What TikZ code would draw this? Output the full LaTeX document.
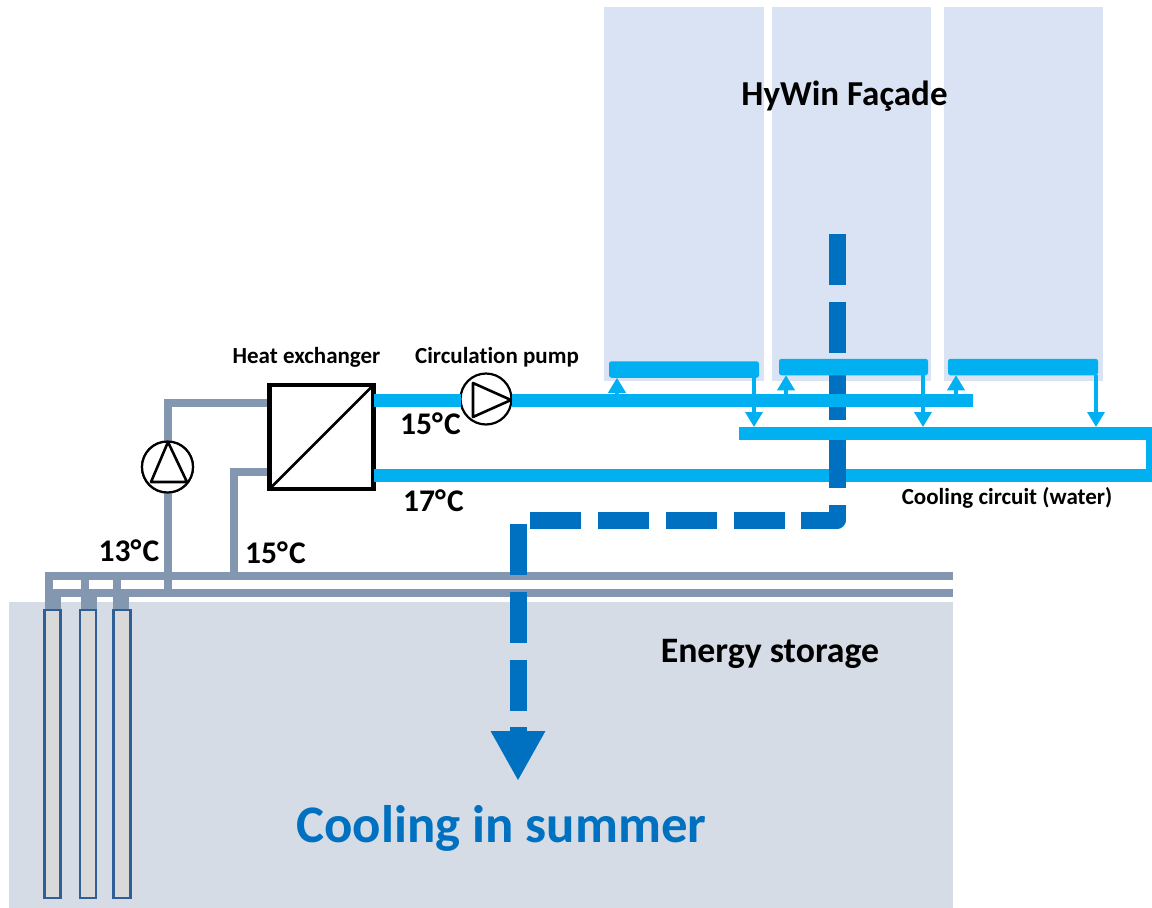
\documentclass[tikz,border=0pt]{standalone}
\usepackage{fontspec}
\setmainfont[Ligatures=NoCommon]{Carlito}
\usetikzlibrary{arrows.meta}
\definecolor{panelc}{HTML}{DAE3F3}
\definecolor{groundc}{HTML}{D6DCE5}
\definecolor{greyp}{HTML}{8497B0}
\definecolor{lightp}{HTML}{00B0F0}
\definecolor{darkp}{HTML}{0070C0}
\definecolor{tubef}{HTML}{D9D9D9}
\definecolor{tubes}{HTML}{2F5F96}
\newcommand{\degc}{°\kern0.04em C}
\tikzset{
  box/.style={inner sep=0pt,outer sep=0pt},
  panel/.style={box,fill=panelc,minimum height=374pt},
  ground/.style={box,fill=groundc},
  tube/.style={box,fill=tubef,draw=tubes,line width=2.6pt,minimum height=288pt},
  manifold/.style={box,fill=lightp,rounded corners=2.5pt,minimum height=16.5pt,minimum width=150pt},
  hxbox/.style={box,draw=black,line width=4.6pt,fill=white,minimum size=104pt},
  pumpc/.style={box,circle,draw=black,line width=2.2pt,fill=white,minimum size=51pt},
  sym/.style={draw=black,line width=2.6pt,line join=round},
  greypipe/.style={draw=greyp,line width=8pt},
  lightpipe/.style={draw=lightp,line width=13pt},
  flowin/.style={draw=lightp,line width=3.5pt,-{Triangle[width=17pt,length=15pt]}},
  flowline/.style={draw=darkp,line width=17pt,dash pattern=on 51pt off 16.7pt,line join=round,
     -{Triangle[width=51pt,length=50pt,color=darkp]}},
  lab/.style={box,font=\bfseries\fontsize{23}{26}\selectfont,text=black},
  temp/.style={box,font=\bfseries\fontsize{31.5}{34}\selectfont,text=black},
  big/.style={box,font=\bfseries\fontsize{35}{40}\selectfont,text=black}
}
\begin{document}
\begin{tikzpicture}[x=1pt,y=-1pt]
\useasboundingbox (0,0) rectangle (1152,908);
\clip (0,0) rectangle (1152,908);
% backgrounds
\node[panel,minimum width=160pt] (p1) at (684,194) {};
\node[panel,minimum width=159pt] (p2) at (851.5,194) {};
\node[panel,minimum width=159pt] (p3) at (1023.5,194) {};
\node[ground,minimum width=944pt,minimum height=306pt] (earth) at (481,755) {};
% coordinates
\coordinate (flowA) at (837,234);
\coordinate (flowB) at (837,520);
\coordinate (flowC) at (518,520);
\coordinate (flowD) at (518,781);
\coordinate (railL1) at (45,576);
\coordinate (railR1) at (953,576);
\coordinate (railL2) at (53,593);
\coordinate (railR2) at (953,593);
\coordinate (coldUp) at (168,597);
\coordinate (warmUp) at (234,580);
\coordinate (loopR) at (1152,475);
\coordinate (barL) at (739,433);
\coordinate (barR) at (1152,433);
\coordinate (supplyR) at (973,400);
% heat exchanger and pumps
\node[hxbox] (hx) at (321.5,437) {};
\node[pumpc] (pumpV) at (167.5,467) {};
\node[pumpc] (pumpH) at (486,399) {};
% storage tubes
\node[tube,minimum width=16pt] (b1) at (52.5,754) {};
\node[tube,minimum width=16pt] (b2) at (88,754) {};
\node[tube,minimum width=17pt] (b3) at (122,754) {};
% grey ground circuit
\draw[greypipe] (railL1) -- (railR1);
\draw[greypipe] (railL2) -- (railR2);
\draw[greypipe,line join=miter] (coldUp) -- (168,403) -- (hx.west |- 0,403);
\draw[greypipe,line join=miter] (warmUp) -- (234,472) -- (hx.west |- 0,472);
\draw[greypipe] (49,572) -- (49,597);
\draw[greypipe] (85,576) -- (85,597);
\draw[greypipe] (117,576) -- (117,597);
\draw[draw=greyp,line width=16pt] (53,597) -- (b1.north -| 53,0);
\draw[draw=greyp,line width=16pt] (89,597) -- (b2.north -| 89,0);
\draw[draw=greyp,line width=16pt] (121,597) -- (b3.north -| 121,0);
\node[tube,minimum width=16pt] at (b1) {};
\node[tube,minimum width=16pt] at (b2) {};
\node[tube,minimum width=17pt] at (b3) {};
% redraw pumps and exchanger over the pipes
\node[hxbox] at (hx) {};
\node[pumpc] at (pumpV) {};
% lower cooling pipe (below the flow arrow)
\draw[lightpipe,line join=miter] (hx.east |- 0,475) -- (loopR) -- (barR);
% big flow line
\draw[flowline] (flowA) -- (flowB) -- (flowC) -- (flowD);
% upper cooling pipes (over the flow arrow)
\draw[lightpipe] (hx.east |- 0,400) -- (pumpH.west |- 0,400);
\draw[lightpipe] (pumpH.east |- 0,400) -- (supplyR);
\draw[lightpipe] (barL) -- (barR);
\node[manifold] (m1) at (684,369.5) {};
\node[manifold,minimum width=149pt] (m2) at (853.5,367) {};
\node[manifold] (m3) at (1023,367) {};
\coordinate (d1) at (754,427);
\coordinate (d2) at (923,427);
\coordinate (d3) at (1096,427);
\coordinate (u1) at (617,394);
\coordinate (u2) at (786,394);
\coordinate (u3) at (956,394);
\draw[flowin] (m1.south -| d1) -- (d1);
\draw[flowin] (m2.south -| d2) -- (d2);
\draw[flowin] (m3.south -| d3) -- (d3);
\draw[flowin] (u1) -- (m1.south -| u1);
\draw[flowin] (u2) -- (m2.south -| u2);
\draw[flowin] (u3) -- (m3.south -| u3);
% symbols
\draw[sym] (hx.south west) -- (hx.north east);
\draw[sym] (168,442) -- (187,482) -- (151,482) -- cycle;
\draw[sym] (511,400) -- (473,383) -- (473,417) -- cycle;
% labels
\node[big] (tFacade) at (844.5,96.5) {HyWin Façade};
\node[lab] (tHx) at (306.5,357.5) {Heat exchanger};
\node[lab] (tPump) at (497,357.5) {Circulation pump};
\node[lab] (tCirc) at (1007,498) {Cooling circuit (water)};
\node[temp] (t15a) at (430.5,424) {15\degc};
\node[temp] (t17) at (433.5,501) {17\degc};
\node[temp] (t13) at (129,551) {13\degc};
\node[temp] (t15b) at (275.5,553) {15\degc};
\node[box,font=\bfseries\fontsize{35.8}{40}\selectfont,text=black] (tStore) at (770,654) {Energy storage};
\node[box,font=\bfseries\fontsize{52.8}{58}\selectfont,text=darkp] (tCool) at (501.5,828) {Cooling in summer};
\end{tikzpicture}
\end{document}
